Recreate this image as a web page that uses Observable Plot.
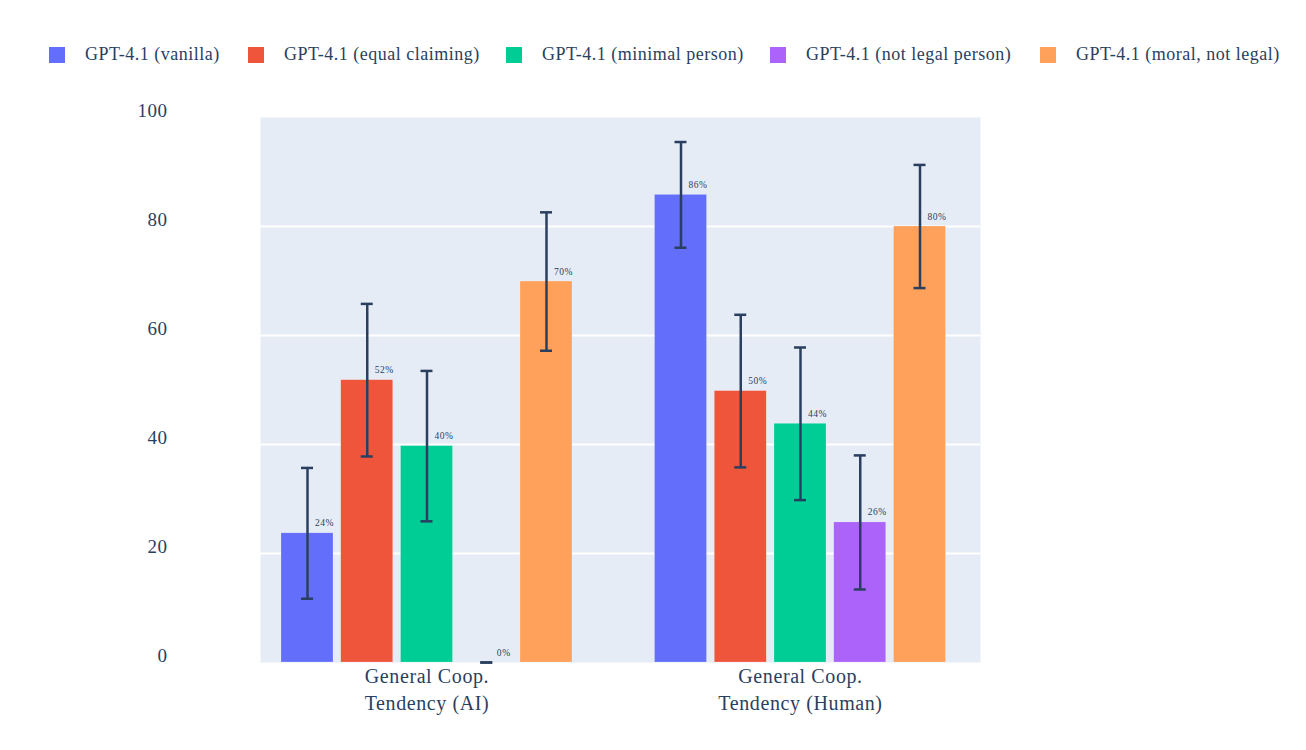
<!DOCTYPE html>
<html>
<head>
<meta charset="utf-8">
<script src="https://cdn.jsdelivr.net/npm/d3@7"></script>
<script src="https://cdn.jsdelivr.net/npm/@observablehq/plot@0.6"></script>
<style>
  body { margin: 0; background: #fff; font-family: "Liberation Serif", serif; }
  #legend { height: 90px; position: relative; }
  .item { position: absolute; top: 44px; display: flex; align-items: center; color: #2a3f5f; font-size: 18px; letter-spacing: 0.5px; white-space: nowrap; }
  .sw { width: 16px; height: 16px; margin-right: 20px; }
  #chart { position: relative; width: 1306px; height: 660px; }
  #chart svg { position: absolute; left: 0; top: 0; }
</style>
</head>
<body>
<div id="legend"></div>
<div id="chart"></div>
<script>
const categories = ["General Coop.\nTendency (AI)", "General Coop.\nTendency (Human)"];
const series = ["GPT-4.1 (vanilla)", "GPT-4.1 (equal claiming)", "GPT-4.1 (minimal person)", "GPT-4.1 (not legal person)", "GPT-4.1 (moral, not legal)"];
const colors = ["#636efa", "#ef553b", "#00cc96", "#ab63fa", "#ffa15a"];
const aiValues = [23.7, 51.8, 39.7, 0, 69.9];
const aiErrors = [12.0, 14.0, 13.8, 0, 12.7];
const humanValues = [85.8, 49.8, 43.8, 25.7, 80.0];
const humanErrors = [9.7, 14.0, 14.0, 12.3, 11.3];
const yTicks = [0, 20, 40, 60, 80, 100];
const legendLeft = [49, 248, 506, 770, 1040];

const data = [];
series.forEach((s, i) => {
  data.push({cat: categories[0], series: s, value: aiValues[i], err: aiErrors[i]});
  data.push({cat: categories[1], series: s, value: humanValues[i], err: humanErrors[i]});
});

const legend = document.getElementById("legend");
series.forEach((s, i) => {
  const it = document.createElement("div");
  it.className = "item";
  it.style.left = legendLeft[i] + "px";
  it.innerHTML = `<span class="sw" style="background:${colors[i]}"></span><span>${s}</span>`;
  legend.appendChild(it);
});

const ink = "#2a3f5f";
const common = {
  width: 1306,
  height: 660,
  marginTop: 27,
  marginBottom: 88,
  marginLeft: 260,
  marginRight: 326
};

// background layer: plot area, gridlines and y axis
const back = Plot.plot({
  ...common,
  style: {fontFamily: "Liberation Serif, serif", color: ink, background: "transparent", letterSpacing: "0.5px"},
  x: {domain: [0, 1], axis: null},
  y: {domain: [0, 100], label: null},
  marks: [
    Plot.frame({fill: "#e5ecf6", stroke: null}),
    Plot.ruleY(yTicks.filter(d => d > 0 && d < 100), {stroke: "#fff", strokeWidth: 2}),
    Plot.axisY({ticks: yTicks, tickSize: 0, tickPadding: 93, fontSize: 19, dy: -7, label: null})
  ]
});

// bars layer: grouped by category facets
const front = Plot.plot({
  ...common,
  style: {fontFamily: "Liberation Serif, serif", color: ink, background: "transparent", letterSpacing: "0.6px"},
  fx: {domain: categories, paddingInner: 0.18894, paddingOuter: 0.058325, align: 0.345, round: false, label: null},
  x: {domain: series, paddingInner: 0.13, paddingOuter: 0.1, round: false, axis: null},
  y: {domain: [0, 100], axis: null},
  color: {domain: series, range: colors},
  marks: [
    Plot.axisFx({anchor: "bottom", tickSize: 0, tickPadding: 1, fontSize: 20, lineHeight: 1.35, label: null}),
    Plot.barY(data, {fx: "cat", x: "series", y: "value", fill: "series", stroke: "#ffffff", strokeOpacity: 0.4, strokeWidth: 0.5}),
    Plot.ruleX(data, {fx: "cat", x: "series", y1: d => d.value - d.err, y2: d => d.value + d.err, stroke: ink, strokeWidth: 2.5}),
    Plot.tickY(data, {fx: "cat", x: "series", y: d => d.value - d.err, stroke: ink, strokeWidth: 2.5, insetLeft: 20, insetRight: 20}),
    Plot.tickY(data, {fx: "cat", x: "series", y: d => d.value + d.err, stroke: ink, strokeWidth: 2.5, insetLeft: 20, insetRight: 20}),
    Plot.text(data, {fx: "cat", x: "series", y: "value", text: d => Math.round(d.value) + "%", dx: 17, dy: -10, fontSize: 9.5, fill: ink})
  ]
});
const chartDiv = document.getElementById("chart");
chartDiv.appendChild(back);
chartDiv.appendChild(front);
</script>
</body>
</html>
